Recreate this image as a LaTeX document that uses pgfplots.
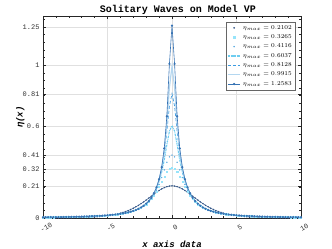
\documentclass[border=0pt]{standalone}
\usepackage{fontspec}
\setmainfont{Liberation Mono}
\usepackage{pgfplots}
\usepackage{pgfplotstable}
\pgfplotsset{compat=1.18}
\definecolor{cA}{RGB}{50,85,135}
\definecolor{cB}{RGB}{150,228,250}
\definecolor{cC}{RGB}{90,170,225}
\definecolor{cD}{RGB}{110,205,240}
\definecolor{cE}{RGB}{60,155,225}
\definecolor{cF}{RGB}{180,215,240}
\definecolor{cG}{RGB}{55,115,180}
\pgfplotstableread{
x a b c d e f g
-10.0 0.0003 0.0046 0.0046 0.0046 0.0046 0.0046 0.0046
-9.8 0.0003 0.0048 0.0048 0.0048 0.0048 0.0048 0.0048
-9.6 0.0004 0.0050 0.0050 0.0050 0.0050 0.0050 0.0050
-9.4 0.0004 0.0052 0.0052 0.0052 0.0052 0.0052 0.0052
-9.2 0.0005 0.0054 0.0054 0.0054 0.0054 0.0054 0.0054
-9.0 0.0006 0.0057 0.0057 0.0057 0.0057 0.0057 0.0057
-8.8 0.0007 0.0059 0.0059 0.0059 0.0059 0.0059 0.0059
-8.6 0.0009 0.0062 0.0062 0.0062 0.0062 0.0062 0.0062
-8.4 0.0010 0.0065 0.0065 0.0065 0.0065 0.0065 0.0065
-8.2 0.0012 0.0068 0.0068 0.0068 0.0068 0.0068 0.0068
-8.0 0.0014 0.0072 0.0072 0.0072 0.0072 0.0072 0.0072
-7.8 0.0016 0.0075 0.0075 0.0075 0.0075 0.0075 0.0075
-7.6 0.0019 0.0079 0.0079 0.0079 0.0079 0.0079 0.0079
-7.4 0.0022 0.0084 0.0084 0.0084 0.0084 0.0084 0.0084
-7.2 0.0026 0.0088 0.0088 0.0088 0.0088 0.0088 0.0088
-7.0 0.0031 0.0093 0.0093 0.0093 0.0093 0.0093 0.0093
-6.8 0.0036 0.0099 0.0099 0.0099 0.0099 0.0099 0.0099
-6.6 0.0043 0.0105 0.0105 0.0105 0.0105 0.0105 0.0105
-6.4 0.0050 0.0111 0.0111 0.0111 0.0111 0.0111 0.0111
-6.2 0.0059 0.0118 0.0118 0.0118 0.0118 0.0118 0.0118
-6.0 0.0069 0.0126 0.0126 0.0126 0.0126 0.0126 0.0126
-5.8 0.0081 0.0134 0.0134 0.0134 0.0134 0.0134 0.0134
-5.6 0.0095 0.0144 0.0144 0.0144 0.0144 0.0144 0.0144
-5.4 0.0112 0.0154 0.0154 0.0154 0.0154 0.0154 0.0154
-5.2 0.0131 0.0166 0.0166 0.0166 0.0166 0.0166 0.0166
-5.0 0.0149 0.0179 0.0179 0.0179 0.0179 0.0179 0.0179
-4.8 0.0174 0.0194 0.0194 0.0194 0.0194 0.0194 0.0194
-4.6 0.0202 0.0210 0.0210 0.0210 0.0210 0.0210 0.0210
-4.4 0.0235 0.0228 0.0228 0.0228 0.0228 0.0228 0.0228
-4.2 0.0273 0.0249 0.0250 0.0250 0.0250 0.0250 0.0250
-4.0 0.0316 0.0273 0.0274 0.0274 0.0274 0.0274 0.0274
-3.8 0.0367 0.0300 0.0300 0.0301 0.0301 0.0301 0.0301
-3.6 0.0423 0.0331 0.0332 0.0333 0.0333 0.0333 0.0333
-3.4 0.0488 0.0368 0.0369 0.0370 0.0370 0.0370 0.0370
-3.2 0.0560 0.0411 0.0412 0.0413 0.0414 0.0414 0.0414
-3.0 0.0641 0.0461 0.0462 0.0464 0.0465 0.0465 0.0465
-2.8 0.0731 0.0520 0.0522 0.0524 0.0525 0.0526 0.0526
-2.6 0.0830 0.0591 0.0594 0.0598 0.0599 0.0600 0.0600
-2.4 0.0938 0.0675 0.0681 0.0686 0.0688 0.0688 0.0689
-2.2 0.1053 0.0777 0.0785 0.0793 0.0796 0.0797 0.0798
-2.0 0.1175 0.0901 0.0914 0.0926 0.0931 0.0933 0.0935
-1.8 0.1302 0.1052 0.1073 0.1093 0.1101 0.1104 0.1107
-1.6 0.1431 0.1236 0.1270 0.1304 0.1318 0.1324 0.1328
-1.4 0.1560 0.1459 0.1516 0.1574 0.1599 0.1609 0.1617
-1.2 0.1683 0.1725 0.1821 0.1925 0.1970 0.1990 0.2005
-1.0 0.1799 0.2032 0.2195 0.2384 0.2473 0.2511 0.2542
-0.8 0.1901 0.2371 0.2644 0.2995 0.3176 0.3258 0.3327
-0.6 0.1985 0.2715 0.3149 0.3800 0.4190 0.4386 0.4558
-0.4 0.2049 0.3014 0.3645 0.4784 0.5645 0.6152 0.6657
-0.2 0.2089 0.3205 0.3998 0.5683 0.7320 0.8543 1.0079
0.0 0.2102 0.3265 0.4116 0.6037 0.8128 0.9915 1.2583
0.2 0.2089 0.3205 0.3998 0.5683 0.7320 0.8543 1.0079
0.4 0.2049 0.3014 0.3645 0.4784 0.5645 0.6152 0.6657
0.6 0.1985 0.2715 0.3149 0.3800 0.4190 0.4386 0.4558
0.8 0.1901 0.2371 0.2644 0.2995 0.3176 0.3258 0.3327
1.0 0.1799 0.2032 0.2195 0.2384 0.2473 0.2511 0.2542
1.2 0.1683 0.1725 0.1821 0.1925 0.1970 0.1990 0.2005
1.4 0.1560 0.1459 0.1516 0.1574 0.1599 0.1609 0.1617
1.6 0.1431 0.1236 0.1270 0.1304 0.1318 0.1324 0.1328
1.8 0.1302 0.1052 0.1073 0.1093 0.1101 0.1104 0.1107
2.0 0.1175 0.0901 0.0914 0.0926 0.0931 0.0933 0.0935
2.2 0.1053 0.0777 0.0785 0.0793 0.0796 0.0797 0.0798
2.4 0.0938 0.0675 0.0681 0.0686 0.0688 0.0688 0.0689
2.6 0.0830 0.0591 0.0594 0.0598 0.0599 0.0600 0.0600
2.8 0.0731 0.0520 0.0522 0.0524 0.0525 0.0526 0.0526
3.0 0.0641 0.0461 0.0462 0.0464 0.0465 0.0465 0.0465
3.2 0.0560 0.0411 0.0412 0.0413 0.0414 0.0414 0.0414
3.4 0.0488 0.0368 0.0369 0.0370 0.0370 0.0370 0.0370
3.6 0.0423 0.0331 0.0332 0.0333 0.0333 0.0333 0.0333
3.8 0.0367 0.0300 0.0300 0.0301 0.0301 0.0301 0.0301
4.0 0.0316 0.0273 0.0274 0.0274 0.0274 0.0274 0.0274
4.2 0.0273 0.0249 0.0250 0.0250 0.0250 0.0250 0.0250
4.4 0.0235 0.0228 0.0228 0.0228 0.0228 0.0228 0.0228
4.6 0.0202 0.0210 0.0210 0.0210 0.0210 0.0210 0.0210
4.8 0.0174 0.0194 0.0194 0.0194 0.0194 0.0194 0.0194
5.0 0.0149 0.0179 0.0179 0.0179 0.0179 0.0179 0.0179
5.2 0.0131 0.0166 0.0166 0.0166 0.0166 0.0166 0.0166
5.4 0.0112 0.0154 0.0154 0.0154 0.0154 0.0154 0.0154
5.6 0.0095 0.0144 0.0144 0.0144 0.0144 0.0144 0.0144
5.8 0.0081 0.0134 0.0134 0.0134 0.0134 0.0134 0.0134
6.0 0.0069 0.0126 0.0126 0.0126 0.0126 0.0126 0.0126
6.2 0.0059 0.0118 0.0118 0.0118 0.0118 0.0118 0.0118
6.4 0.0050 0.0111 0.0111 0.0111 0.0111 0.0111 0.0111
6.6 0.0043 0.0105 0.0105 0.0105 0.0105 0.0105 0.0105
6.8 0.0036 0.0099 0.0099 0.0099 0.0099 0.0099 0.0099
7.0 0.0031 0.0093 0.0093 0.0093 0.0093 0.0093 0.0093
7.2 0.0026 0.0088 0.0088 0.0088 0.0088 0.0088 0.0088
7.4 0.0022 0.0084 0.0084 0.0084 0.0084 0.0084 0.0084
7.6 0.0019 0.0079 0.0079 0.0079 0.0079 0.0079 0.0079
7.8 0.0016 0.0075 0.0075 0.0075 0.0075 0.0075 0.0075
8.0 0.0014 0.0072 0.0072 0.0072 0.0072 0.0072 0.0072
8.2 0.0012 0.0068 0.0068 0.0068 0.0068 0.0068 0.0068
8.4 0.0010 0.0065 0.0065 0.0065 0.0065 0.0065 0.0065
8.6 0.0009 0.0062 0.0062 0.0062 0.0062 0.0062 0.0062
8.8 0.0007 0.0059 0.0059 0.0059 0.0059 0.0059 0.0059
9.0 0.0006 0.0057 0.0057 0.0057 0.0057 0.0057 0.0057
9.2 0.0005 0.0054 0.0054 0.0054 0.0054 0.0054 0.0054
9.4 0.0004 0.0052 0.0052 0.0052 0.0052 0.0052 0.0052
9.6 0.0004 0.0050 0.0050 0.0050 0.0050 0.0050 0.0050
9.8 0.0003 0.0048 0.0048 0.0048 0.0048 0.0048 0.0048
10.0 0.0003 0.0046 0.0046 0.0046 0.0046 0.0046 0.0046
}\soldata
\begin{document}
\begin{tikzpicture}
\useasboundingbox (-43pt,-31pt) rectangle (289pt,218pt);
\begin{axis}[
  scale only axis, width=258pt, height=202pt,
  xmin=-10, xmax=10, ymin=0, ymax=1.3212,
  clip=false,
  axis line style={color=black!85, line width=0.5pt},
  tick style={color=black!85, line width=0.4pt},
  major tick length=3pt, minor tick length=1.8pt,
  tick align=inside,
  xtick={-10,-5,0,5,10}, xticklabels={-10,-5,0,5,10},
  minor x tick num=4,
  ytick={0,0.21,0.32,0.41,0.6,0.81,1,1.25},
  yticklabels={0,0.21,0.32,0.41,0.6,0.81,1,1.25},
  minor ytick={0,0.05,...,1.31},
  grid=major, major grid style={color=black!12, line width=0.4pt},
  /pgf/number format/assume math mode=true,
  ticklabel style={font=\fontsize{7}{8}\selectfont, text=black!80},
  xticklabel style={rotate=30, anchor=center, yshift=-10pt, xshift=-2pt},
  every axis title shift=0pt,
  title={\textbf{Solitary Waves on Model VP}},
  title style={font=\fontsize{10}{11}\selectfont, inner sep=1pt, xshift=6pt},
  xlabel={\textbf{\textit{x axis data}}},
  xlabel style={font=\fontsize{9}{10}\selectfont, at={(axis description cs:0.5,-0.131)}, anchor=center},
  ylabel={\textbf{\textit{η(x)}}},
  ylabel style={font=\fontsize{9}{10}\selectfont, at={(axis description cs:-0.088,0.5)}, anchor=center},
  legend cell align=left,
  legend image code/.code={\draw[mark repeat=2,mark phase=2,#1] plot coordinates {(0cm,0cm) (0.22cm,0cm) (0.44cm,0cm)};},
  legend style={at={(rel axis cs:1,1)}, anchor=north east, xshift=-6pt, yshift=-6pt,
    font=\fontsize{6.2}{7}\selectfont, draw=black!60, line width=0.4pt, fill=white,
    inner sep=1pt, row sep=0pt},
]
\addplot[color=cA, line width=0.5pt, mark=*, mark size=0.4pt,
  legend image code/.code={\fill[cA] (0.22cm,0cm) circle (0.6pt);}]
  table[x=x, y=a] {\soldata};
\addlegendentry{$\eta_{max} = 0.2102$}
\addplot[color=cB, only marks, mark=square*, mark size=0.55pt,
  legend image code/.code={\fill[cB] (0.18cm,-0.05cm) rectangle (0.26cm,0.05cm);}]
  table[x=x, y=b] {\soldata};
\addlegendentry{$\eta_{max} = 0.3265$}
\addplot[color=cC, only marks, mark=*, mark size=0.45pt,
  legend image code/.code={\fill[cC] (0.22cm,0cm) circle (0.5pt);}]
  table[x=x, y=c] {\soldata};
\addlegendentry{$\eta_{max} = 0.4116$}
\addplot[color=cD, line width=1.1pt, dash pattern=on 2pt off 0.8pt on 0.8pt off 0.8pt]
  table[x=x, y=d] {\soldata};
\addlegendentry{$\eta_{max} = 0.6037$}
\addplot[color=cE, line width=0.7pt, dash pattern=on 3pt off 2pt]
  table[x=x, y=e] {\soldata};
\addlegendentry{$\eta_{max} = 0.8128$}
\addplot[color=cF, line width=1.2pt]
  table[x=x, y=f] {\soldata};
\addlegendentry{$\eta_{max} = 0.9915$}
\addplot[color=cG, line width=0.6pt, mark=*, mark size=0.8pt]
  table[x=x, y=g] {\soldata};
\addlegendentry{$\eta_{max} = 1.2583$}
\end{axis}
\end{tikzpicture}
\end{document}
